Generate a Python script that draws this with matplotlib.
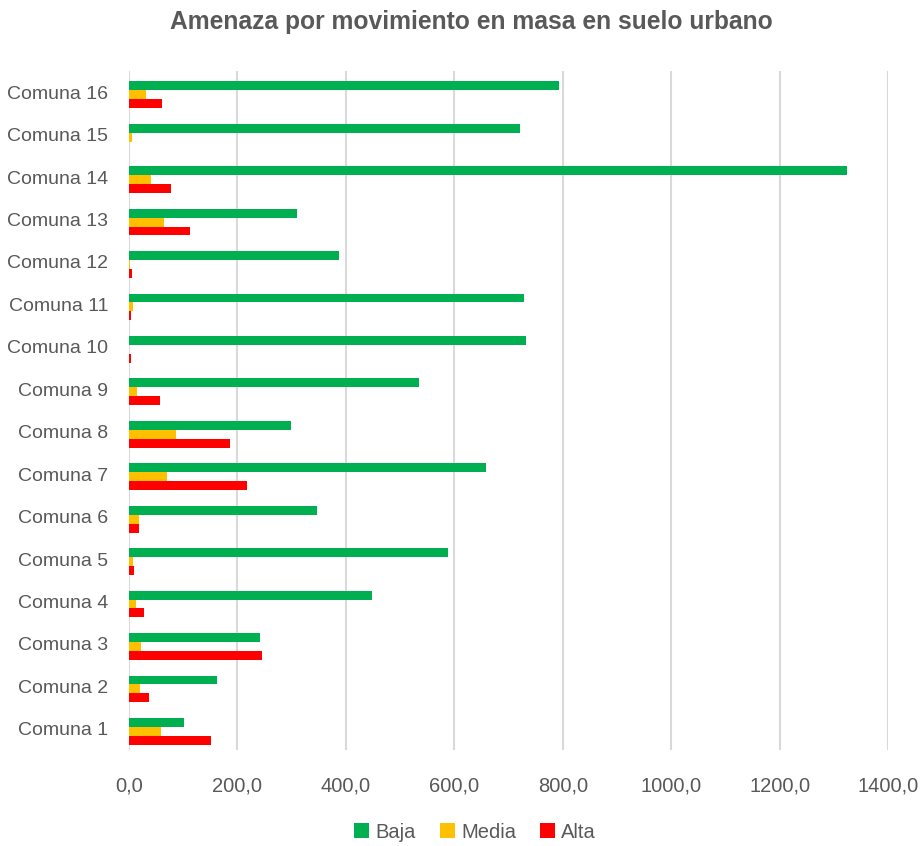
import matplotlib
matplotlib.use("Agg")
import matplotlib.pyplot as plt
import numpy as np
from matplotlib.ticker import FuncFormatter

categories = ["Comuna 1", "Comuna 2", "Comuna 3", "Comuna 4", "Comuna 5", "Comuna 6",
              "Comuna 7", "Comuna 8", "Comuna 9", "Comuna 10", "Comuna 11", "Comuna 12",
              "Comuna 13", "Comuna 14", "Comuna 15", "Comuna 16"]
baja = [101, 163, 242, 448, 589, 347, 659, 298, 535, 733, 729, 388, 309, 1325, 722, 794]
media = [59, 20, 23, 12, 8, 18, 71, 87, 14, 0.5, 8, 2, 64, 41, 6, 32]
alta = [151, 37, 245, 28, 10, 19, 217, 186, 57, 3, 4, 5, 112, 77, 0, 60]

series_names = ["Baja", "Media", "Alta"]
colors = ["#00B050", "#FFC000", "#FF0000"]
xticks = [0, 200, 400, 600, 800, 1000, 1200, 1400]

plt.rcParams['font.family'] = ['Liberation Sans', 'DejaVu Sans']
fig = plt.figure(figsize=(9.23, 8.46), dpi=100)
ax = fig.add_axes([129/923, 1-750/846, (888-129)/923, (750-71)/846])

y = np.arange(len(categories))
h = 0.21
for vals, name, col, off in zip([baja, media, alta], series_names, colors, [h, 0, -h]):
    ax.barh(y + off - 0.06, vals, height=h, color=col, label=name, zorder=3)

ax.set_xlim(0, 1400)
ax.set_ylim(-0.5, len(categories) - 0.5)
ax.set_xticks(xticks)
ax.xaxis.set_major_formatter(FuncFormatter(lambda v, p: f"{v:.1f}".replace(".", ",")))
ax.set_yticks(y)
ax.set_yticklabels(categories)
for s in ax.spines.values():
    s.set_visible(False)
ax.grid(axis="x", color="#D9D9D9", linewidth=1.5, zorder=0)
ax.tick_params(axis="both", length=0, colors="#595959")
ax.tick_params(axis="y", labelsize=14, pad=15)
ax.tick_params(axis="x", labelsize=14.5, pad=19)

fig.text(471/923, 1-22/846, "Amenaza por movimiento en masa en suelo urbano",
         ha="center", va="center", fontsize=17.7, fontweight="bold", color="#595959")

leg = fig.legend(loc="center", bbox_to_anchor=(475/923, 1-832/846), ncol=3, frameon=False,
                 fontsize=14.5, handlelength=0.75, handleheight=0.75, handletextpad=0.3,
                 columnspacing=1.2)
for t in leg.get_texts():
    t.set_color("#595959")

fig.savefig("out.png", dpi=100)
